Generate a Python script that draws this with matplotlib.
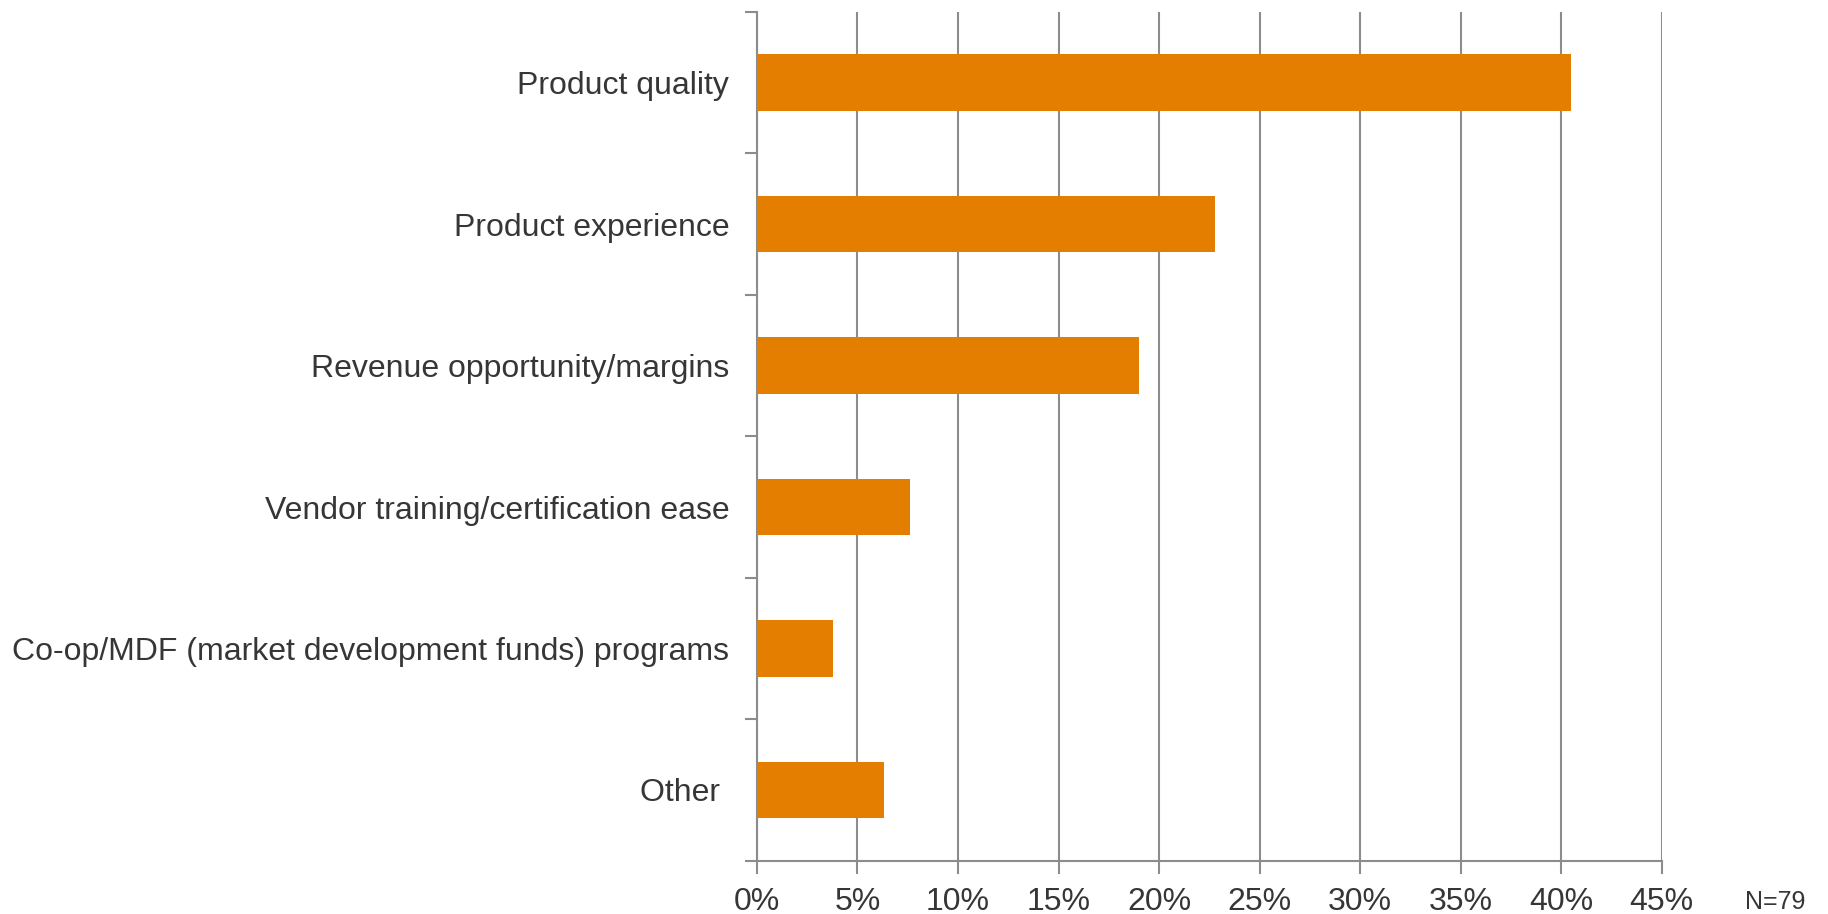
import matplotlib.pyplot as plt
import numpy as np
from matplotlib.ticker import FixedLocator

plt.rcParams['font.family'] = ['Liberation Sans', 'DejaVu Sans']

categories = ["Product quality", "Product experience", "Revenue opportunity/margins",
              "Vendor training/certification ease",
              "Co-op/MDF (market development funds) programs", "Other "]
shares = [40.5, 22.8, 19.0, 7.6, 3.8, 6.3]
x_ticks = [0, 5, 10, 15, 20, 25, 30, 35, 40, 45]
x_labels = [f"{t}%" for t in x_ticks]

bar_color = "#E47E00"
grid_color = "#8C8C8C"
text_color = "#363636"

fig = plt.figure(figsize=(18.28, 9.14), dpi=100)
ax = fig.add_axes([0.4141, 0.0583, 0.4949, 0.9286])

y = np.arange(len(categories))
ax.barh(y, shares, height=0.4, color=bar_color, zorder=3)

ax.set_xlim(0, 45)
ax.set_ylim(len(categories) - 0.5, -0.5)
ax.set_xticks(x_ticks)
ax.set_xticklabels(x_labels, fontsize=23, color=text_color)
ax.set_yticks(y)
ax.set_yticklabels(categories, fontsize=23, color=text_color)
ax.tick_params(axis='y', which='major', length=0, pad=20)
ax.yaxis.set_minor_locator(FixedLocator(np.arange(-0.5, len(categories), 1)))
ax.tick_params(axis='y', which='minor', length=9, width=1.5, color=grid_color)
ax.tick_params(axis='x', length=9, width=1.5, color=grid_color, pad=10)

ax.grid(axis='x', color=grid_color, linewidth=1.5, zorder=0)
for side in ['top', 'right']:
    ax.spines[side].set_visible(False)
for side in ['left', 'bottom']:
    ax.spines[side].set_color(grid_color)
    ax.spines[side].set_linewidth(1.5)

fig.text(0.9545, 0.0, "N=79", fontsize=18, color=text_color, ha='left', va='bottom')

fig.savefig("out.png", dpi=100)
